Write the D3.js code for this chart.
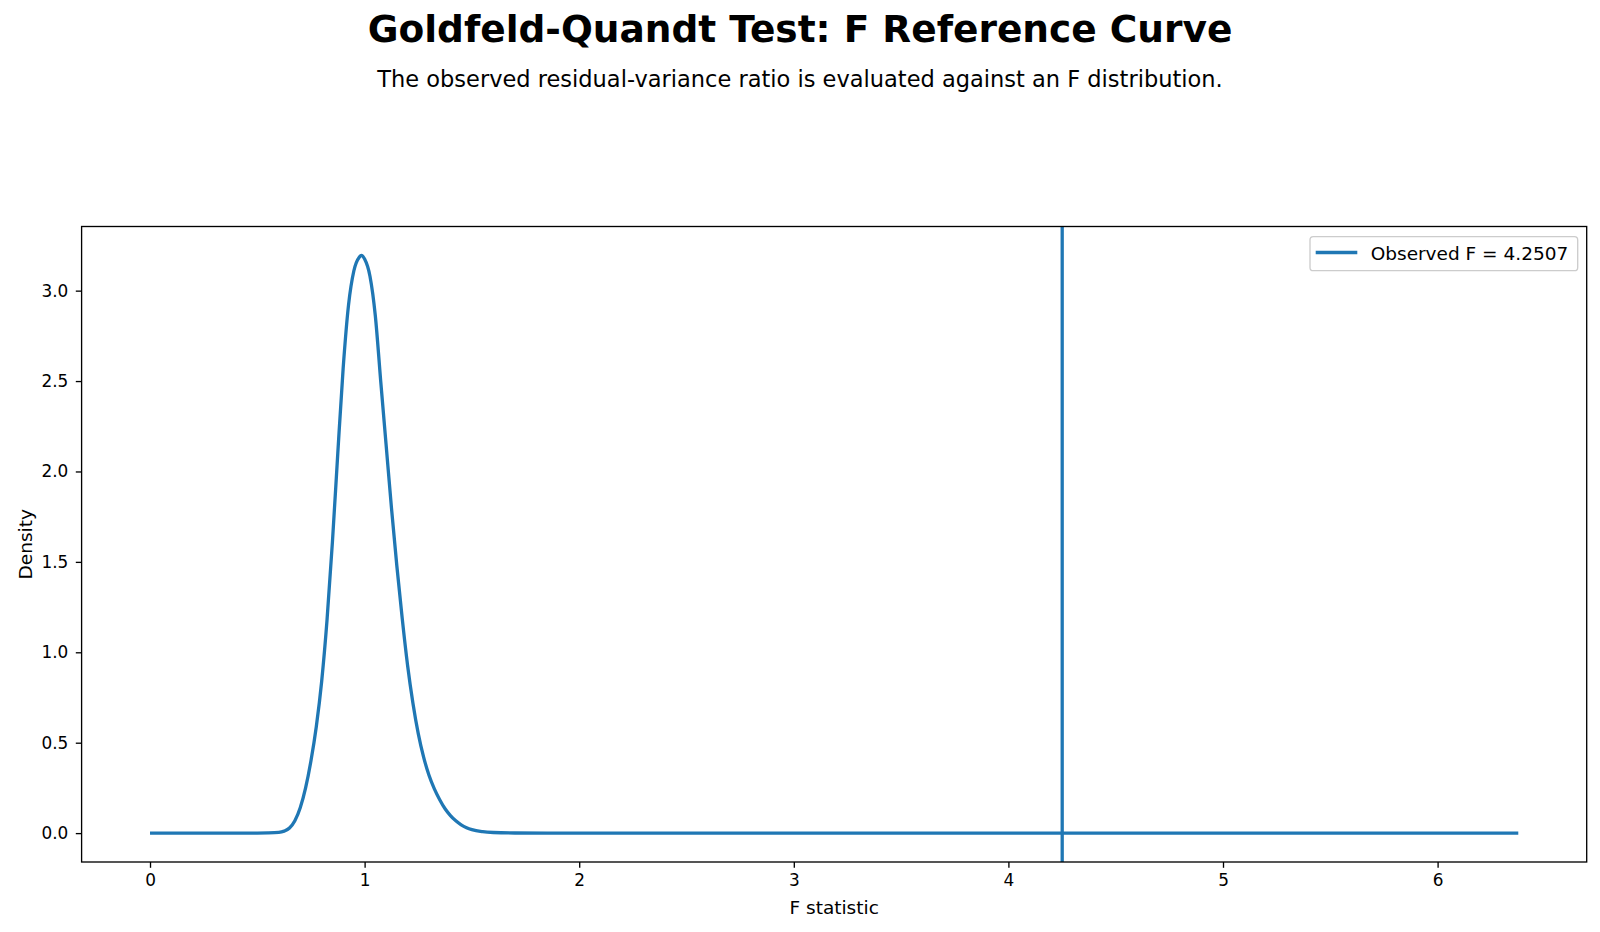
<!DOCTYPE html>
<html>
<head>
<meta charset="utf-8">
<script src="https://cdn.jsdelivr.net/npm/d3@7"></script>
<style>
  body { margin: 0; background: #fff; }
  svg { display: block; font-family: "DejaVu Sans", sans-serif; }
</style>
</head>
<body>
<div id="chart"></div>
<script>
// F density values
const fValues = [0, 0.3, 0.5, 0.55, 0.6, 0.625, 0.65, 0.675, 0.7, 0.725, 0.75, 0.775, 0.8, 0.825, 0.85,
    0.875, 0.9, 0.925, 0.95, 0.975, 0.985, 1.0, 1.025, 1.05, 1.075, 1.1, 1.125, 1.15, 1.175, 1.2,
    1.225, 1.25, 1.275, 1.3, 1.325, 1.35, 1.375, 1.4, 1.425, 1.45, 1.475, 1.5, 1.55, 1.6, 1.7,
    1.85, 2.0, 6.376];
const densities = [0, 0, 0.0002, 0.001, 0.004, 0.011, 0.028, 0.068, 0.14, 0.25, 0.40, 0.59, 0.84, 1.18, 1.61,
    2.10, 2.57, 2.92, 3.11, 3.185, 3.195, 3.175, 3.08, 2.86, 2.50, 2.15, 1.80, 1.48, 1.19, 0.93,
    0.72, 0.55, 0.42, 0.32, 0.245, 0.185, 0.135, 0.097, 0.068, 0.046, 0.030, 0.019, 0.008, 0.0035, 0.0007,
    0.0001, 0, 0];
const observedF = 4.2507;
const xTicks = [0, 1, 2, 3, 4, 5, 6];
const yTicks = [0, 0.5, 1, 1.5, 2, 2.5, 3];

const width = 1600, height = 932;
const margin = { left: 81.6, right: 1600 - 1586.7, top: 226.5, bottom: 932 - 862 };
const blue = '#1f77b4';

const svg = d3.select('#chart')
    .append('svg')
    .attr('width', width)
    .attr('height', height);

// Title and subtitle
svg.append('text')
    .attr('x', 800).attr('y', 42)
    .attr('text-anchor', 'middle')
    .attr('font-size', 37.5)
    .attr('font-weight', 'bold')
    .text('Goldfeld-Quandt Test: F Reference Curve');

svg.append('text')
    .attr('x', 800).attr('y', 87)
    .attr('text-anchor', 'middle')
    .attr('font-size', 22.5)
    .text('The observed residual-variance ratio is evaluated against an F distribution.');

// Scales with matplotlib-like 5% padding
const xMax = d3.max(fValues), yMax = d3.max(densities);
const x = d3.scaleLinear()
    .domain([-0.05 * xMax, xMax * 1.05])
    .range([margin.left, width - margin.right]);
const y = d3.scaleLinear()
    .domain([-0.05 * yMax, yMax * 1.05])
    .range([height - margin.bottom, margin.top]);

const points = fValues.map((v, i) => [v, densities[i]]);

const plot = svg.append('g');

// Clip to plot area
svg.append('clipPath').attr('id', 'clip')
    .append('rect')
    .attr('x', margin.left).attr('y', margin.top)
    .attr('width', width - margin.left - margin.right)
    .attr('height', height - margin.top - margin.bottom);

const line = d3.line()
    .x(d => x(d[0]))
    .y(d => y(d[1]))
    .curve(d3.curveMonotoneX);

plot.append('path')
    .datum(points)
    .attr('fill', 'none')
    .attr('stroke', blue)
    .attr('stroke-width', 3.3)
    .attr('stroke-linejoin', 'round')
    .attr('clip-path', 'url(#clip)')
    .attr('d', line);

// Observed F vertical line
plot.append('line')
    .attr('x1', x(observedF)).attr('x2', x(observedF))
    .attr('y1', margin.top).attr('y2', height - margin.bottom)
    .attr('stroke', blue)
    .attr('stroke-width', 3.3);

// Axes
const xAxis = svg.append('g')
    .attr('transform', `translate(0,${height - margin.bottom})`)
    .call(d3.axisBottom(x).tickValues(xTicks).tickFormat(d3.format('d')).tickSize(5.8).tickPadding(6.2));

const yAxis = svg.append('g')
    .attr('transform', `translate(${margin.left},0)`)
    .call(d3.axisLeft(y).tickValues(yTicks).tickFormat(d3.format('.1f')).tickSize(5.8).tickPadding(7.5));

[xAxis, yAxis].forEach(ax => {
    ax.select('.domain').remove();
    ax.selectAll('.tick line').attr('stroke', '#000').attr('stroke-width', 1.33);
    ax.selectAll('.tick text').attr('font-size', 16.9).attr('fill', '#000')
        .attr('font-family', '"DejaVu Sans", sans-serif');
});

// Frame
svg.append('rect')
    .attr('x', margin.left).attr('y', margin.top)
    .attr('width', width - margin.left - margin.right)
    .attr('height', height - margin.top - margin.bottom)
    .attr('fill', 'none')
    .attr('stroke', '#000')
    .attr('stroke-width', 1.33);

// Axis labels
svg.append('text')
    .attr('x', (margin.left + width - margin.right) / 2)
    .attr('y', 914)
    .attr('text-anchor', 'middle')
    .attr('font-size', 18.5)
    .text('F statistic');

svg.append('text')
    .attr('transform', `translate(31.5,${(margin.top + height - margin.bottom) / 2}) rotate(-90)`)
    .attr('text-anchor', 'middle')
    .attr('font-size', 18.5)
    .text('Density');

// Legend
const legend = svg.append('g');
legend.append('rect')
    .attr('x', 1310).attr('y', 236.7)
    .attr('width', 267.7).attr('height', 34)
    .attr('rx', 3.3)
    .attr('fill', '#fff').attr('fill-opacity', 0.8)
    .attr('stroke', '#cccccc').attr('stroke-width', 1.33);
legend.append('line')
    .attr('x1', 1315.7).attr('x2', 1357.3)
    .attr('y1', 252.5).attr('y2', 252.5)
    .attr('stroke', blue).attr('stroke-width', 3.3);
legend.append('text')
    .attr('x', 1370.7).attr('y', 259.5)
    .attr('font-size', 18.5)
    .text(`Observed F = ${observedF}`);
</script>
</body>
</html>
